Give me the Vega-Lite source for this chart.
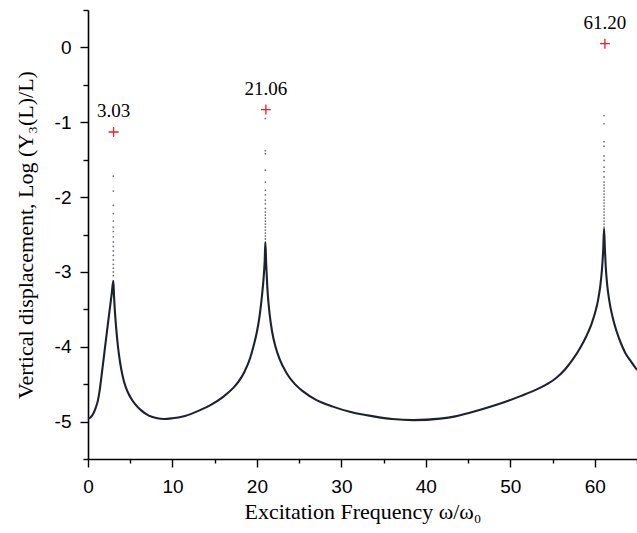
{
  "$schema": "https://vega.github.io/schema/vega-lite/v6.json",
  "width": 549,
  "height": 449,
  "autosize": {"type": "none"},
  "padding": {"left": 88, "top": 10, "right": 0, "bottom": 74},
  "background": "white",
  "config": {
    "view": {"stroke": null},
    "axis": {
      "grid": false,
      "domainColor": "black",
      "domainWidth": 1.6,
      "tickColor": "black",
      "tickWidth": 1.4,
      "labelFont": "Liberation Sans",
      "labelFontSize": 19,
      "labelColor": "black",
      "titleFont": "Liberation Serif",
      "titleFontSize": 22,
      "titleFontWeight": "normal",
      "titleColor": "black"
    }
  },
  "datasets": {
    "curve": [
      {"x": 0, "y": -4.96}, {"x": 0.3, "y": -4.945}, {"x": 0.6, "y": -4.9}, {"x": 0.9, "y": -4.82},
      {"x": 1.17, "y": -4.72}, {"x": 1.4, "y": -4.57}, {"x": 1.7, "y": -4.3}, {"x": 1.96, "y": -4.06},
      {"x": 2.25, "y": -3.79}, {"x": 2.55, "y": -3.52}, {"x": 2.8, "y": -3.3}, {"x": 3.0, "y": -3.12},
      {"x": 3.08, "y": -3.32}, {"x": 3.17, "y": -3.5}, {"x": 3.3, "y": -3.7}, {"x": 3.54, "y": -3.99},
      {"x": 3.8, "y": -4.21}, {"x": 4.1, "y": -4.39}, {"x": 4.5, "y": -4.55}, {"x": 5.0, "y": -4.67},
      {"x": 5.6, "y": -4.77}, {"x": 6.3, "y": -4.85}, {"x": 7.2, "y": -4.92}, {"x": 8.2, "y": -4.955},
      {"x": 9.0, "y": -4.965}, {"x": 10.0, "y": -4.955}, {"x": 11.5, "y": -4.925}, {"x": 13.2, "y": -4.85},
      {"x": 14.5, "y": -4.78},
      {"x": 16.0, "y": -4.67}, {"x": 17.2, "y": -4.55}, {"x": 17.8, "y": -4.47}, {"x": 18.5, "y": -4.34},
      {"x": 19.2, "y": -4.15}, {"x": 19.6, "y": -3.99}, {"x": 20.0, "y": -3.8}, {"x": 20.3, "y": -3.6},
      {"x": 20.5, "y": -3.42}, {"x": 20.65, "y": -3.26}, {"x": 20.8, "y": -3.07}, {"x": 20.92, "y": -2.85},
      {"x": 21.0, "y": -2.6}, {"x": 21.1, "y": -2.9}, {"x": 21.2, "y": -3.14}, {"x": 21.3, "y": -3.32},
      {"x": 21.5, "y": -3.56}, {"x": 21.8, "y": -3.8}, {"x": 22.2, "y": -4.0}, {"x": 22.7, "y": -4.17},
      {"x": 23.5, "y": -4.35}, {"x": 24.5, "y": -4.5}, {"x": 25.5, "y": -4.6}, {"x": 27.0, "y": -4.71},
      {"x": 29.0, "y": -4.8}, {"x": 31.0, "y": -4.87}, {"x": 33.8, "y": -4.93}, {"x": 36.0, "y": -4.965},
      {"x": 38.5, "y": -4.98}, {"x": 41.7, "y": -4.96}, {"x": 43.5, "y": -4.93}, {"x": 45.3, "y": -4.88},
      {"x": 48.0, "y": -4.79}, {"x": 51.2, "y": -4.66}, {"x": 53.5, "y": -4.55}, {"x": 54.5, "y": -4.49},
      {"x": 55.5, "y": -4.41}, {"x": 56.5, "y": -4.3}, {"x": 57.4, "y": -4.17}, {"x": 58.3, "y": -4.01},
      {"x": 59.0, "y": -3.86}, {"x": 59.6, "y": -3.7}, {"x": 60.1, "y": -3.52}, {"x": 60.4, "y": -3.37},
      {"x": 60.65, "y": -3.19}, {"x": 60.85, "y": -2.97}, {"x": 61.0, "y": -2.7}, {"x": 61.1, "y": -2.42},
      {"x": 61.2, "y": -2.7}, {"x": 61.3, "y": -2.93}, {"x": 61.45, "y": -3.15}, {"x": 61.7, "y": -3.37},
      {"x": 62.1, "y": -3.6}, {"x": 62.6, "y": -3.8}, {"x": 63.05, "y": -3.94}, {"x": 63.6, "y": -4.08},
      {"x": 64.3, "y": -4.2}, {"x": 65.0, "y": -4.31}
    ],
    "dots": [
      {"x": 3.0, "y": -1.72}, {"x": 3.0, "y": -1.92}, {"x": 3.0, "y": -2.11}, {"x": 3.0, "y": -2.22},
      {"x": 3.0, "y": -2.32}, {"x": 3.0, "y": -2.4}, {"x": 3.0, "y": -2.46}, {"x": 3.0, "y": -2.53},
      {"x": 3.0, "y": -2.6}, {"x": 3.0, "y": -2.66}, {"x": 3.0, "y": -2.72}, {"x": 3.0, "y": -2.78},
      {"x": 3.0, "y": -2.84}, {"x": 3.0, "y": -2.9}, {"x": 3.0, "y": -2.95}, {"x": 3.0, "y": -3.0},
      {"x": 3.0, "y": -3.05},
      {"x": 21.0, "y": -0.95}, {"x": 21.0, "y": -1.38}, {"x": 21.0, "y": -1.42}, {"x": 21.0, "y": -1.64},
      {"x": 21.0, "y": -1.8}, {"x": 21.0, "y": -1.91}, {"x": 21.0, "y": -1.97}, {"x": 21.0, "y": -2.04},
      {"x": 21.0, "y": -2.09}, {"x": 21.0, "y": -2.15}, {"x": 21.0, "y": -2.2}, {"x": 21.0, "y": -2.24},
      {"x": 21.0, "y": -2.28}, {"x": 21.0, "y": -2.32}, {"x": 21.0, "y": -2.36}, {"x": 21.0, "y": -2.4},
      {"x": 21.0, "y": -2.44}, {"x": 21.0, "y": -2.48}, {"x": 21.0, "y": -2.52}, {"x": 21.0, "y": -2.56},
      {"x": 61.1, "y": -0.91}, {"x": 61.1, "y": -1.02}, {"x": 61.1, "y": -1.26}, {"x": 61.1, "y": -1.32},
      {"x": 61.1, "y": -1.45}, {"x": 61.1, "y": -1.51}, {"x": 61.1, "y": -1.6}, {"x": 61.1, "y": -1.66},
      {"x": 61.1, "y": -1.73}, {"x": 61.1, "y": -1.8}, {"x": 61.1, "y": -1.84}, {"x": 61.1, "y": -1.88},
      {"x": 61.1, "y": -1.92}, {"x": 61.1, "y": -1.96}, {"x": 61.1, "y": -2.0}, {"x": 61.1, "y": -2.04},
      {"x": 61.1, "y": -2.08}, {"x": 61.1, "y": -2.12}, {"x": 61.1, "y": -2.16}, {"x": 61.1, "y": -2.2},
      {"x": 61.1, "y": -2.24}, {"x": 61.1, "y": -2.28}, {"x": 61.1, "y": -2.32}, {"x": 61.1, "y": -2.36},
      {"x": 61.1, "y": -2.4}
    ],
    "peaks": [
      {"x": 3.03, "y": -1.13, "label": "3.03"},
      {"x": 21.06, "y": -0.83, "label": "21.06"},
      {"x": 61.2, "y": 0.05, "label": "61.20"}
    ]
  },
  "encoding": {
    "x": {
      "field": "x", "type": "quantitative",
      "scale": {"domain": [0, 65], "nice": false, "zero": false},
      "axis": {
        "title": "Excitation Frequency ω/ω₀",
        "values": [0, 5, 10, 15, 20, 25, 30, 35, 40, 45, 50, 55, 60, 65],
        "labelExpr": "datum.value % 10 === 0 ? toString(datum.value) : ''",
        "tickSize": {"condition": {"test": "datum.value % 10 === 0", "value": 8}, "value": 4},
        "labelPadding": 10,
        "titlePadding": 5,
        "labelFlush": false,
        "labelOverlap": false
      }
    },
    "y": {
      "field": "y", "type": "quantitative",
      "scale": {"domain": [-5.5, 0.5], "nice": false, "zero": false},
      "axis": {
        "title": "Vertical displacement, Log (Y₃(L)/L)",
        "values": [-5.5, -5, -4.5, -4, -3.5, -3, -2.5, -2, -1.5, -1, -0.5, 0, 0.5],
        "labelExpr": "datum.value % 1 === 0 ? toString(datum.value) : ''",
        "tickSize": {"condition": {"test": "datum.value % 1 === 0", "value": 8}, "value": 5},
        "labelPadding": 9,
        "titlePadding": 17,
        "labelFlush": false,
        "labelOverlap": false
      }
    }
  },
  "layer": [
    {
      "data": {"name": "curve"},
      "mark": {"type": "line", "color": "#1c2230", "strokeWidth": 2.1, "interpolate": "monotone"}
    },
    {
      "data": {"name": "dots"},
      "mark": {"type": "circle", "color": "#555b66", "size": 3, "opacity": 0.9}
    },
    {
      "data": {"name": "peaks"},
      "mark": {"type": "point", "shape": "M-1,0H1M0,-1V1", "filled": false, "stroke": "#e8202a", "strokeWidth": 1.3, "size": 100, "opacity": 1}
    },
    {
      "data": {"name": "peaks"},
      "mark": {"type": "text", "font": "Liberation Serif", "fontSize": 19, "color": "black", "dy": -21, "baseline": "middle", "align": "center"},
      "encoding": {"text": {"field": "label", "type": "nominal"}}
    }
  ]
}
